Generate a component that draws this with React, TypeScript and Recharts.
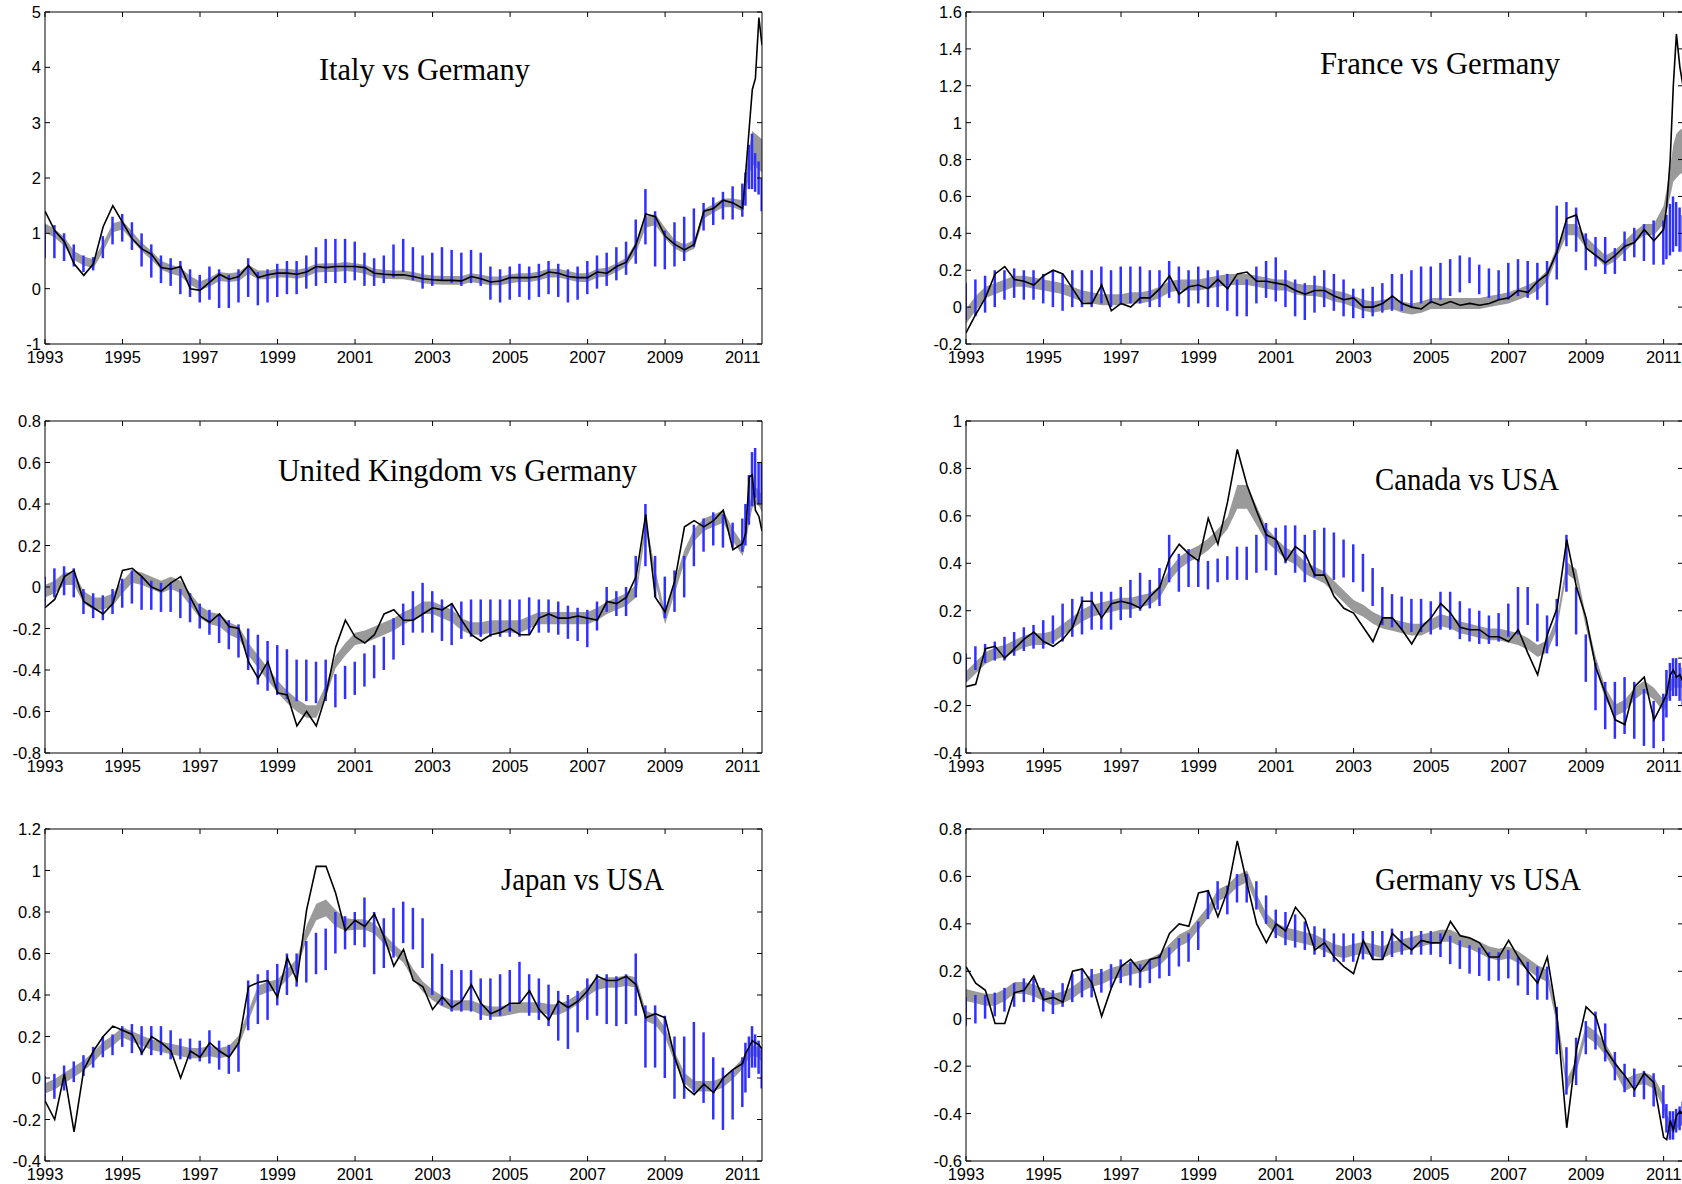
import React from 'react';
import { ComposedChart, Area, Bar, Line, XAxis, YAxis } from 'recharts';

// sample dates: quarterly to 2011, then roughly monthly for the last half-year
const T = [
  1993, 1993.25, 1993.5, 1993.75, 1994, 1994.25, 1994.5, 1994.75, 1995, 1995.25, 1995.5, 1995.75, 1996, 1996.25, 1996.5, 1996.75,
  1997, 1997.25, 1997.5, 1997.75, 1998, 1998.25, 1998.5, 1998.75, 1999, 1999.25, 1999.5, 1999.75, 2000, 2000.25, 2000.5, 2000.75,
  2001, 2001.25, 2001.5, 2001.75, 2002, 2002.25, 2002.5, 2002.75, 2003, 2003.25, 2003.5, 2003.75, 2004, 2004.25, 2004.5, 2004.75,
  2005, 2005.25, 2005.5, 2005.75, 2006, 2006.25, 2006.5, 2006.75, 2007, 2007.25, 2007.5, 2007.75, 2008, 2008.25, 2008.5, 2008.75,
  2009, 2009.25, 2009.5, 2009.75, 2010, 2010.25, 2010.5, 2010.75, 2011, 2011.08, 2011.17, 2011.25, 2011.33, 2011.42, 2011.5,
];
const YEARS = [1993, 1995, 1997, 1999, 2001, 2003, 2005, 2007, 2009, 2011];

// Italy vs Germany
const italyLine = [
  1.40, 1.05, 0.85, 0.45, 0.24, 0.45, 1.12, 1.50, 1.20, 0.90, 0.72, 0.62, 0.38, 0.35, 0.40, 0.00,
  -0.03, 0.12, 0.26, 0.17, 0.22, 0.42, 0.20, 0.25, 0.28, 0.28, 0.26, 0.30, 0.40, 0.38, 0.40, 0.40,
  0.40, 0.38, 0.28, 0.26, 0.25, 0.25, 0.22, 0.18, 0.16, 0.15, 0.15, 0.14, 0.22, 0.18, 0.12, 0.14,
  0.20, 0.20, 0.20, 0.22, 0.30, 0.28, 0.22, 0.20, 0.20, 0.30, 0.28, 0.40, 0.48, 0.80, 1.35, 1.30,
  0.95, 0.80, 0.70, 0.80, 1.40, 1.45, 1.60, 1.55, 1.45, 2.10, 2.90, 3.60, 3.80, 4.90, 4.40,
];
const italyBand = [
  1.10, 1.00, 0.85, 0.60, 0.50, 0.45, 0.75, 1.10, 1.15, 0.95, 0.75, 0.60, 0.42, 0.35, 0.30, 0.15,
  0.05, 0.12, 0.22, 0.20, 0.22, 0.35, 0.25, 0.25, 0.28, 0.28, 0.26, 0.30, 0.37, 0.38, 0.38, 0.40,
  0.38, 0.35, 0.28, 0.26, 0.25, 0.25, 0.22, 0.18, 0.16, 0.15, 0.15, 0.15, 0.20, 0.17, 0.14, 0.14,
  0.18, 0.20, 0.20, 0.23, 0.28, 0.28, 0.24, 0.20, 0.20, 0.28, 0.30, 0.38, 0.48, 0.75, 1.20, 1.25,
  1.00, 0.80, 0.72, 0.80, 1.35, 1.45, 1.55, 1.55, 1.50, 1.90, 2.30, 2.55, 2.50, 2.45, 2.40,
];
const italyBandHalf = [
  0.08, 0.08, 0.08, 0.08, 0.08, 0.08, 0.08, 0.08, 0.08, 0.08, 0.08, 0.08, 0.08, 0.08, 0.08, 0.08,
  0.08, 0.08, 0.08, 0.08, 0.08, 0.08, 0.08, 0.08, 0.08, 0.08, 0.08, 0.08, 0.08, 0.08, 0.08, 0.08,
  0.08, 0.08, 0.08, 0.08, 0.08, 0.08, 0.08, 0.08, 0.08, 0.08, 0.08, 0.08, 0.08, 0.08, 0.08, 0.08,
  0.08, 0.08, 0.08, 0.08, 0.08, 0.08, 0.08, 0.08, 0.08, 0.08, 0.08, 0.08, 0.08, 0.10, 0.10, 0.10,
  0.10, 0.08, 0.08, 0.08, 0.08, 0.08, 0.08, 0.08, 0.10, 0.15, 0.25, 0.30, 0.30, 0.30, 0.30,
];
const italyBar = [
  0.85, 0.85, 0.75, 0.60, 0.45, 0.45, 0.75, 1.05, 1.10, 0.95, 0.70, 0.50, 0.35, 0.30, 0.20, 0.10,
  0.00, 0.10, 0.00, -0.05, 0.05, 0.20, 0.00, 0.05, 0.15, 0.20, 0.20, 0.30, 0.40, 0.50, 0.50, 0.50,
  0.50, 0.35, 0.30, 0.35, 0.50, 0.60, 0.45, 0.30, 0.35, 0.45, 0.40, 0.35, 0.40, 0.35, 0.10, 0.05,
  0.10, 0.15, 0.10, 0.15, 0.20, 0.15, 0.05, 0.10, 0.20, 0.30, 0.35, 0.45, 0.55, 0.85, 1.30, 0.90,
  0.70, 0.80, 0.90, 1.10, 1.30, 1.40, 1.50, 1.55, 1.60, 1.80, 2.20, 2.30, 2.10, 2.00, 1.70,
];
const italyBarHalf = [
  0.30, 0.30, 0.25, 0.20, 0.15, 0.12, 0.20, 0.25, 0.25, 0.25, 0.30, 0.30, 0.25, 0.25, 0.30, 0.25,
  0.25, 0.30, 0.35, 0.30, 0.30, 0.35, 0.30, 0.30, 0.30, 0.30, 0.30, 0.30, 0.35, 0.40, 0.40, 0.40,
  0.35, 0.30, 0.25, 0.25, 0.30, 0.30, 0.30, 0.30, 0.30, 0.30, 0.30, 0.30, 0.30, 0.30, 0.30, 0.30,
  0.30, 0.30, 0.30, 0.30, 0.30, 0.30, 0.30, 0.30, 0.30, 0.30, 0.30, 0.30, 0.30, 0.40, 0.50, 0.50,
  0.35, 0.40, 0.40, 0.35, 0.25, 0.25, 0.25, 0.30, 0.30, 0.30, 0.40, 0.50, 0.35, 0.30, 0.30,
];

// France vs Germany
const franceLine = [
  -0.14, -0.04, 0.05, 0.18, 0.22, 0.15, 0.14, 0.12, 0.17, 0.20, 0.18, 0.10, 0.02, 0.02, 0.12, -0.02,
  0.02, 0.00, 0.05, 0.05, 0.10, 0.17, 0.07, 0.11, 0.12, 0.10, 0.15, 0.10, 0.18, 0.19, 0.14, 0.14,
  0.13, 0.12, 0.09, 0.07, 0.09, 0.09, 0.06, 0.04, 0.05, 0.00, 0.00, 0.02, 0.06, 0.02, 0.00, -0.01,
  0.03, 0.01, 0.03, 0.01, 0.02, 0.01, 0.02, 0.04, 0.05, 0.09, 0.08, 0.14, 0.18, 0.30, 0.48, 0.50,
  0.32, 0.28, 0.24, 0.28, 0.33, 0.35, 0.42, 0.36, 0.42, 0.55, 0.80, 1.20, 1.48, 1.30, 1.20,
];
const franceBand = [
  -0.05, 0.02, 0.08, 0.10, 0.12, 0.14, 0.14, 0.13, 0.12, 0.11, 0.10, 0.08, 0.06, 0.05, 0.04, 0.04,
  0.04, 0.05, 0.05, 0.06, 0.08, 0.11, 0.12, 0.12, 0.12, 0.13, 0.14, 0.15, 0.15, 0.15, 0.14, 0.13,
  0.12, 0.12, 0.10, 0.09, 0.09, 0.08, 0.06, 0.05, 0.03, 0.01, 0.00, 0.01, 0.02, 0.00, -0.01, 0.00,
  0.02, 0.02, 0.02, 0.02, 0.02, 0.02, 0.03, 0.04, 0.05, 0.07, 0.09, 0.12, 0.17, 0.30, 0.42, 0.42,
  0.35, 0.30, 0.25, 0.28, 0.33, 0.38, 0.42, 0.42, 0.50, 0.58, 0.68, 0.78, 0.82, 0.84, 0.85,
];
const franceBandHalf = [
  0.04, 0.04, 0.03, 0.03, 0.03, 0.03, 0.03, 0.03, 0.03, 0.03, 0.03, 0.03, 0.03, 0.03, 0.03, 0.03,
  0.03, 0.03, 0.03, 0.03, 0.03, 0.03, 0.03, 0.03, 0.03, 0.03, 0.03, 0.03, 0.03, 0.03, 0.03, 0.03,
  0.03, 0.03, 0.03, 0.03, 0.03, 0.03, 0.03, 0.03, 0.03, 0.03, 0.03, 0.03, 0.03, 0.03, 0.03, 0.03,
  0.03, 0.03, 0.03, 0.03, 0.03, 0.03, 0.03, 0.03, 0.03, 0.03, 0.03, 0.03, 0.03, 0.03, 0.03, 0.03,
  0.03, 0.03, 0.03, 0.03, 0.03, 0.03, 0.03, 0.03, 0.05, 0.06, 0.08, 0.10, 0.12, 0.12, 0.12,
];
const franceBar = [
  0.03, 0.05, 0.07, 0.10, 0.12, 0.13, 0.12, 0.12, 0.10, 0.10, 0.08, 0.10, 0.10, 0.10, 0.12, 0.10,
  0.12, 0.12, 0.12, 0.10, 0.10, 0.15, 0.12, 0.10, 0.12, 0.10, 0.10, 0.08, 0.05, 0.05, 0.12, 0.15,
  0.15, 0.10, 0.05, 0.03, 0.07, 0.10, 0.08, 0.05, 0.02, 0.02, 0.03, 0.05, 0.08, 0.08, 0.10, 0.12,
  0.12, 0.14, 0.16, 0.18, 0.20, 0.15, 0.13, 0.12, 0.14, 0.16, 0.15, 0.14, 0.13, 0.35, 0.45, 0.42,
  0.30, 0.30, 0.28, 0.25, 0.33, 0.35, 0.35, 0.35, 0.35, 0.38, 0.42, 0.45, 0.45, 0.42, 0.40,
];
const franceBarHalf = [
  0.10, 0.10, 0.10, 0.10, 0.08, 0.08, 0.08, 0.08, 0.08, 0.10, 0.10, 0.10, 0.10, 0.10, 0.10, 0.10,
  0.10, 0.10, 0.10, 0.10, 0.10, 0.10, 0.10, 0.10, 0.10, 0.10, 0.10, 0.10, 0.10, 0.10, 0.10, 0.10,
  0.12, 0.10, 0.10, 0.10, 0.10, 0.10, 0.10, 0.10, 0.08, 0.08, 0.08, 0.08, 0.10, 0.10, 0.10, 0.10,
  0.10, 0.10, 0.10, 0.10, 0.07, 0.08, 0.08, 0.08, 0.10, 0.10, 0.10, 0.10, 0.12, 0.20, 0.12, 0.12,
  0.10, 0.08, 0.10, 0.07, 0.08, 0.08, 0.10, 0.12, 0.12, 0.12, 0.14, 0.15, 0.12, 0.12, 0.10,
];

// United Kingdom vs Germany
const ukLine = [
  -0.10, -0.06, 0.05, 0.08, -0.07, -0.10, -0.13, -0.08, 0.08, 0.09, 0.05, 0.00, -0.02, 0.02, 0.05, -0.05,
  -0.14, -0.17, -0.13, -0.19, -0.20, -0.36, -0.44, -0.36, -0.51, -0.52, -0.67, -0.60, -0.67, -0.52, -0.29, -0.16,
  -0.24, -0.27, -0.23, -0.13, -0.11, -0.16, -0.16, -0.13, -0.10, -0.11, -0.08, -0.16, -0.23, -0.26, -0.23, -0.22,
  -0.20, -0.23, -0.23, -0.15, -0.13, -0.15, -0.15, -0.14, -0.15, -0.16, -0.07, -0.08, -0.05, 0.05, 0.35, -0.05,
  -0.12, 0.03, 0.29, 0.32, 0.29, 0.32, 0.37, 0.18, 0.21, 0.26, 0.53, 0.54, 0.37, 0.34, 0.27,
];
const ukBand = [
  -0.02, 0.00, 0.04, 0.04, -0.05, -0.08, -0.08, -0.06, 0.00, 0.05, 0.04, 0.02, 0.00, 0.02, 0.00, -0.06,
  -0.12, -0.15, -0.16, -0.20, -0.22, -0.30, -0.36, -0.42, -0.48, -0.53, -0.57, -0.60, -0.60, -0.50, -0.36, -0.30,
  -0.25, -0.24, -0.22, -0.20, -0.18, -0.15, -0.13, -0.10, -0.10, -0.12, -0.14, -0.18, -0.20, -0.20, -0.19, -0.19,
  -0.19, -0.19, -0.17, -0.15, -0.15, -0.15, -0.15, -0.15, -0.15, -0.13, -0.10, -0.08, -0.06, -0.02, 0.30, 0.05,
  -0.15, 0.00, 0.15, 0.25, 0.30, 0.32, 0.34, 0.25, 0.18, 0.25, 0.35, 0.42, 0.44, 0.43, 0.40,
];
const ukBandHalf = [
  0.03, 0.03, 0.03, 0.03, 0.03, 0.03, 0.03, 0.03, 0.03, 0.03, 0.03, 0.03, 0.03, 0.03, 0.03, 0.03,
  0.03, 0.03, 0.03, 0.03, 0.03, 0.03, 0.03, 0.03, 0.03, 0.03, 0.03, 0.03, 0.03, 0.03, 0.03, 0.03,
  0.03, 0.03, 0.03, 0.03, 0.03, 0.03, 0.03, 0.03, 0.03, 0.03, 0.03, 0.03, 0.03, 0.03, 0.03, 0.03,
  0.03, 0.03, 0.03, 0.03, 0.03, 0.03, 0.03, 0.03, 0.03, 0.03, 0.03, 0.03, 0.03, 0.03, 0.03, 0.03,
  0.03, 0.03, 0.03, 0.03, 0.03, 0.03, 0.03, 0.03, 0.03, 0.04, 0.04, 0.04, 0.04, 0.04, 0.04,
];
const ukBar = [
  -0.02, 0.02, 0.03, 0.02, -0.07, -0.09, -0.10, -0.07, -0.03, 0.00, -0.03, -0.04, -0.05, -0.05, -0.08, -0.10,
  -0.14, -0.17, -0.20, -0.23, -0.26, -0.30, -0.35, -0.38, -0.40, -0.42, -0.45, -0.45, -0.46, -0.45, -0.50, -0.46,
  -0.44, -0.40, -0.36, -0.32, -0.25, -0.18, -0.12, -0.10, -0.12, -0.16, -0.18, -0.16, -0.15, -0.15, -0.15, -0.15,
  -0.15, -0.15, -0.14, -0.14, -0.14, -0.15, -0.17, -0.18, -0.20, -0.14, -0.06, -0.08, -0.07, 0.05, 0.25, 0.05,
  -0.05, -0.02, 0.05, 0.20, 0.25, 0.28, 0.27, 0.25, 0.25, 0.30, 0.42, 0.52, 0.55, 0.50, 0.50,
];
const ukBarHalf = [
  0.07, 0.07, 0.07, 0.07, 0.06, 0.06, 0.06, 0.06, 0.07, 0.08, 0.08, 0.07, 0.07, 0.07, 0.07, 0.07,
  0.06, 0.06, 0.07, 0.07, 0.08, 0.10, 0.12, 0.12, 0.12, 0.12, 0.10, 0.10, 0.10, 0.10, 0.08, 0.08,
  0.08, 0.08, 0.08, 0.08, 0.10, 0.10, 0.10, 0.12, 0.10, 0.10, 0.10, 0.09, 0.09, 0.09, 0.09, 0.09,
  0.09, 0.09, 0.09, 0.08, 0.08, 0.08, 0.08, 0.08, 0.09, 0.07, 0.06, 0.06, 0.07, 0.10, 0.15, 0.10,
  0.10, 0.10, 0.10, 0.10, 0.08, 0.08, 0.08, 0.06, 0.08, 0.10, 0.12, 0.13, 0.12, 0.10, 0.10,
];

// Canada vs USA
const canadaLine = [
  -0.12, -0.11, 0.04, 0.05, 0.00, 0.04, 0.08, 0.11, 0.07, 0.05, 0.08, 0.13, 0.24, 0.24, 0.17, 0.23,
  0.24, 0.23, 0.21, 0.26, 0.30, 0.42, 0.48, 0.44, 0.41, 0.59, 0.48, 0.66, 0.88, 0.73, 0.62, 0.52,
  0.50, 0.41, 0.47, 0.44, 0.35, 0.35, 0.26, 0.21, 0.19, 0.13, 0.07, 0.17, 0.17, 0.12, 0.06, 0.13,
  0.17, 0.23, 0.19, 0.13, 0.12, 0.12, 0.09, 0.09, 0.07, 0.12, 0.02, -0.07, 0.10, 0.21, 0.50, 0.30,
  0.17, -0.04, -0.15, -0.26, -0.28, -0.12, -0.08, -0.26, -0.18, -0.15, -0.07, -0.05, -0.08, -0.07, -0.10,
];
const canadaBand = [
  -0.08, -0.04, 0.00, 0.02, 0.03, 0.05, 0.07, 0.08, 0.08, 0.09, 0.12, 0.15, 0.18, 0.20, 0.21, 0.22,
  0.23, 0.23, 0.24, 0.25, 0.28, 0.35, 0.40, 0.43, 0.45, 0.48, 0.52, 0.57, 0.68, 0.68, 0.60, 0.52,
  0.48, 0.44, 0.42, 0.38, 0.36, 0.34, 0.30, 0.26, 0.22, 0.20, 0.17, 0.15, 0.14, 0.13, 0.12, 0.12,
  0.14, 0.16, 0.15, 0.13, 0.12, 0.11, 0.10, 0.10, 0.09, 0.08, 0.06, 0.03, 0.05, 0.15, 0.38, 0.35,
  0.15, -0.02, -0.15, -0.22, -0.20, -0.15, -0.12, -0.15, -0.20, -0.17, -0.12, -0.10, -0.10, -0.10, -0.10,
];
const canadaBandHalf = [
  0.025, 0.025, 0.025, 0.025, 0.025, 0.025, 0.025, 0.025, 0.025, 0.025, 0.025, 0.025, 0.025, 0.025, 0.025, 0.025,
  0.025, 0.025, 0.025, 0.025, 0.025, 0.025, 0.025, 0.025, 0.025, 0.025, 0.025, 0.025, 0.05, 0.05, 0.04, 0.03,
  0.025, 0.025, 0.025, 0.025, 0.025, 0.025, 0.025, 0.025, 0.025, 0.025, 0.025, 0.025, 0.025, 0.025, 0.025, 0.025,
  0.025, 0.025, 0.025, 0.025, 0.025, 0.025, 0.025, 0.025, 0.025, 0.025, 0.025, 0.025, 0.025, 0.025, 0.025, 0.025,
  0.025, 0.025, 0.025, 0.025, 0.025, 0.025, 0.025, 0.025, 0.025, 0.025, 0.025, 0.025, 0.025, 0.025, 0.025,
];
const canadaBar = [
  -0.04, 0.00, 0.02, 0.03, 0.04, 0.06, 0.08, 0.09, 0.10, 0.12, 0.15, 0.17, 0.18, 0.20, 0.20, 0.20,
  0.23, 0.25, 0.28, 0.27, 0.30, 0.42, 0.36, 0.38, 0.36, 0.35, 0.37, 0.38, 0.40, 0.40, 0.44, 0.47,
  0.45, 0.48, 0.46, 0.42, 0.44, 0.45, 0.43, 0.42, 0.40, 0.36, 0.30, 0.22, 0.20, 0.19, 0.18, 0.18,
  0.17, 0.20, 0.20, 0.16, 0.14, 0.13, 0.12, 0.13, 0.16, 0.20, 0.22, 0.15, 0.10, 0.15, 0.40, 0.20,
  0.00, -0.12, -0.20, -0.22, -0.20, -0.22, -0.25, -0.28, -0.25, -0.15, -0.10, -0.08, -0.08, -0.10, -0.12,
];
const canadaBarHalf = [
  0.06, 0.05, 0.04, 0.04, 0.05, 0.05, 0.05, 0.05, 0.06, 0.06, 0.08, 0.08, 0.08, 0.08, 0.08, 0.08,
  0.07, 0.08, 0.08, 0.06, 0.08, 0.10, 0.08, 0.08, 0.06, 0.06, 0.05, 0.05, 0.07, 0.07, 0.08, 0.10,
  0.10, 0.08, 0.10, 0.10, 0.10, 0.10, 0.10, 0.08, 0.08, 0.08, 0.08, 0.08, 0.07, 0.07, 0.07, 0.07,
  0.07, 0.08, 0.08, 0.08, 0.07, 0.07, 0.06, 0.06, 0.07, 0.10, 0.08, 0.08, 0.08, 0.10, 0.12, 0.10,
  0.10, 0.10, 0.10, 0.12, 0.12, 0.12, 0.12, 0.10, 0.10, 0.10, 0.08, 0.08, 0.08, 0.08, 0.08,
];

// Japan vs USA
const japanLine = [
  -0.11, -0.20, 0.02, -0.26, 0.04, 0.13, 0.20, 0.25, 0.23, 0.21, 0.12, 0.20, 0.17, 0.13, 0.00, 0.13,
  0.10, 0.17, 0.13, 0.10, 0.17, 0.44, 0.46, 0.47, 0.39, 0.58, 0.47, 0.81, 1.02, 1.02, 0.89, 0.71,
  0.76, 0.73, 0.79, 0.68, 0.54, 0.62, 0.47, 0.44, 0.33, 0.39, 0.34, 0.37, 0.45, 0.36, 0.31, 0.33,
  0.36, 0.36, 0.42, 0.33, 0.28, 0.37, 0.34, 0.37, 0.42, 0.49, 0.47, 0.47, 0.49, 0.45, 0.29, 0.31,
  0.29, 0.10, -0.04, -0.08, -0.03, -0.07, 0.00, 0.04, 0.07, 0.12, 0.15, 0.18, 0.17, 0.16, 0.14,
];
const japanBand = [
  -0.05, -0.03, 0.00, 0.03, 0.06, 0.10, 0.15, 0.18, 0.22, 0.20, 0.18, 0.16, 0.15, 0.14, 0.13, 0.12,
  0.12, 0.13, 0.12, 0.13, 0.18, 0.30, 0.42, 0.44, 0.45, 0.50, 0.55, 0.70, 0.80, 0.82, 0.77, 0.74,
  0.74, 0.74, 0.72, 0.67, 0.62, 0.58, 0.50, 0.44, 0.40, 0.37, 0.35, 0.35, 0.35, 0.33, 0.32, 0.32,
  0.33, 0.34, 0.34, 0.34, 0.33, 0.33, 0.35, 0.38, 0.42, 0.45, 0.46, 0.46, 0.47, 0.46, 0.30, 0.28,
  0.22, 0.10, 0.00, -0.04, -0.04, -0.04, -0.02, 0.02, 0.07, 0.10, 0.12, 0.13, 0.13, 0.12, 0.10,
];
const japanBandHalf = [
  0.025, 0.025, 0.025, 0.025, 0.025, 0.025, 0.025, 0.025, 0.025, 0.025, 0.025, 0.025, 0.025, 0.025, 0.025, 0.025,
  0.025, 0.025, 0.025, 0.025, 0.025, 0.025, 0.025, 0.025, 0.025, 0.025, 0.025, 0.035, 0.04, 0.04, 0.04, 0.03,
  0.025, 0.025, 0.025, 0.025, 0.025, 0.025, 0.025, 0.025, 0.025, 0.025, 0.025, 0.025, 0.025, 0.025, 0.025, 0.025,
  0.025, 0.025, 0.025, 0.025, 0.025, 0.025, 0.025, 0.025, 0.025, 0.025, 0.025, 0.025, 0.025, 0.025, 0.025, 0.025,
  0.025, 0.025, 0.025, 0.025, 0.025, 0.025, 0.025, 0.025, 0.025, 0.025, 0.025, 0.025, 0.025, 0.025, 0.025,
];
const japanBar = [
  -0.05, -0.04, 0.00, 0.03, 0.06, 0.10, 0.15, 0.16, 0.20, 0.19, 0.18, 0.18, 0.18, 0.16, 0.14, 0.14,
  0.13, 0.15, 0.11, 0.09, 0.10, 0.35, 0.38, 0.40, 0.45, 0.50, 0.52, 0.56, 0.60, 0.62, 0.70, 0.70,
  0.72, 0.75, 0.65, 0.65, 0.70, 0.75, 0.72, 0.65, 0.50, 0.45, 0.42, 0.42, 0.42, 0.38, 0.38, 0.40,
  0.42, 0.46, 0.40, 0.38, 0.35, 0.30, 0.27, 0.32, 0.38, 0.40, 0.38, 0.37, 0.38, 0.45, 0.20, 0.20,
  0.15, 0.05, 0.05, 0.10, 0.05, -0.05, -0.10, -0.08, -0.02, 0.05, 0.10, 0.15, 0.13, 0.10, 0.05,
];
const japanBarHalf = [
  0.06, 0.06, 0.06, 0.05, 0.05, 0.05, 0.05, 0.05, 0.05, 0.07, 0.07, 0.07, 0.07, 0.07, 0.05, 0.05,
  0.05, 0.08, 0.07, 0.07, 0.07, 0.12, 0.12, 0.12, 0.10, 0.10, 0.08, 0.10, 0.10, 0.10, 0.10, 0.08,
  0.08, 0.12, 0.15, 0.12, 0.12, 0.10, 0.10, 0.12, 0.10, 0.10, 0.10, 0.10, 0.10, 0.10, 0.10, 0.10,
  0.10, 0.10, 0.10, 0.10, 0.10, 0.12, 0.13, 0.10, 0.10, 0.10, 0.12, 0.12, 0.12, 0.15, 0.15, 0.15,
  0.15, 0.15, 0.15, 0.17, 0.17, 0.15, 0.15, 0.12, 0.12, 0.12, 0.10, 0.10, 0.08, 0.08, 0.10,
];

// Germany vs USA
const germanyLine = [
  0.22, 0.15, 0.12, -0.02, -0.02, 0.11, 0.12, 0.18, 0.08, 0.09, 0.07, 0.20, 0.21, 0.15, 0.01, 0.13,
  0.22, 0.25, 0.20, 0.25, 0.26, 0.36, 0.40, 0.39, 0.53, 0.54, 0.43, 0.54, 0.75, 0.57, 0.40, 0.32,
  0.40, 0.37, 0.47, 0.42, 0.29, 0.32, 0.26, 0.22, 0.19, 0.33, 0.25, 0.25, 0.36, 0.32, 0.29, 0.33,
  0.32, 0.32, 0.41, 0.35, 0.34, 0.32, 0.26, 0.26, 0.33, 0.26, 0.20, 0.15, 0.26, 0.01, -0.46, -0.13,
  0.05, 0.01, -0.13, -0.19, -0.24, -0.30, -0.23, -0.27, -0.50, -0.51, -0.43, -0.47, -0.41, -0.39, -0.40,
];
const germanyBand = [
  0.10, 0.09, 0.08, 0.08, 0.10, 0.13, 0.13, 0.12, 0.10, 0.08, 0.09, 0.11, 0.14, 0.16, 0.17, 0.19,
  0.20, 0.21, 0.22, 0.23, 0.25, 0.29, 0.33, 0.35, 0.40, 0.45, 0.52, 0.54, 0.58, 0.60, 0.50, 0.42,
  0.38, 0.36, 0.35, 0.34, 0.33, 0.31, 0.29, 0.28, 0.29, 0.30, 0.29, 0.28, 0.30, 0.31, 0.32, 0.33,
  0.34, 0.35, 0.35, 0.33, 0.32, 0.30, 0.28, 0.27, 0.28, 0.26, 0.23, 0.20, 0.18, 0.00, -0.28, -0.20,
  -0.05, -0.08, -0.13, -0.20, -0.28, -0.26, -0.25, -0.27, -0.35, -0.43, -0.45, -0.45, -0.44, -0.43, -0.42,
];
const germanyBandHalf = [
  0.025, 0.025, 0.025, 0.025, 0.025, 0.025, 0.025, 0.025, 0.025, 0.025, 0.025, 0.025, 0.025, 0.025, 0.025, 0.025,
  0.025, 0.025, 0.025, 0.025, 0.025, 0.025, 0.025, 0.025, 0.025, 0.025, 0.025, 0.025, 0.025, 0.025, 0.025, 0.025,
  0.025, 0.025, 0.025, 0.025, 0.025, 0.025, 0.025, 0.025, 0.025, 0.025, 0.025, 0.025, 0.025, 0.025, 0.025, 0.025,
  0.025, 0.025, 0.025, 0.025, 0.025, 0.025, 0.025, 0.025, 0.025, 0.025, 0.025, 0.025, 0.025, 0.025, 0.025, 0.025,
  0.025, 0.025, 0.025, 0.025, 0.025, 0.025, 0.025, 0.025, 0.025, 0.025, 0.025, 0.025, 0.025, 0.025, 0.025,
];
const germanyBar = [
  0.03, 0.04, 0.05, 0.06, 0.08, 0.10, 0.12, 0.12, 0.08, 0.07, 0.10, 0.13, 0.15, 0.15, 0.16, 0.18,
  0.20, 0.19, 0.18, 0.20, 0.22, 0.24, 0.28, 0.30, 0.35, 0.48, 0.52, 0.50, 0.55, 0.55, 0.52, 0.46,
  0.40, 0.38, 0.37, 0.35, 0.33, 0.32, 0.30, 0.30, 0.30, 0.31, 0.31, 0.31, 0.32, 0.32, 0.32, 0.32,
  0.32, 0.31, 0.29, 0.27, 0.25, 0.24, 0.22, 0.22, 0.23, 0.20, 0.17, 0.15, 0.15, -0.05, -0.22, -0.18,
  -0.08, -0.05, -0.10, -0.20, -0.25, -0.27, -0.28, -0.30, -0.35, -0.42, -0.45, -0.45, -0.43, -0.42, -0.40,
];
const germanyBarHalf = [
  0.06, 0.06, 0.05, 0.05, 0.05, 0.05, 0.05, 0.05, 0.05, 0.05, 0.05, 0.06, 0.06, 0.06, 0.05, 0.05,
  0.05, 0.05, 0.05, 0.05, 0.05, 0.06, 0.06, 0.06, 0.06, 0.06, 0.06, 0.06, 0.06, 0.06, 0.06, 0.06,
  0.06, 0.07, 0.07, 0.06, 0.06, 0.06, 0.06, 0.06, 0.06, 0.06, 0.06, 0.06, 0.06, 0.05, 0.05, 0.05,
  0.05, 0.05, 0.06, 0.06, 0.06, 0.06, 0.06, 0.06, 0.06, 0.06, 0.07, 0.07, 0.07, 0.10, 0.10, 0.10,
  0.07, 0.08, 0.08, 0.06, 0.06, 0.06, 0.06, 0.07, 0.07, 0.06, 0.06, 0.06, 0.05, 0.05, 0.05,
];

const italyTicks = [-1, 0, 1, 2, 3, 4, 5];
const franceTicks = [-0.2, 0, 0.2, 0.4, 0.6, 0.8, 1, 1.2, 1.4, 1.6];
const ukTicks = [-0.8, -0.6, -0.4, -0.2, 0, 0.2, 0.4, 0.6, 0.8];
const canadaTicks = [-0.4, -0.2, 0, 0.2, 0.4, 0.6, 0.8, 1];
const japanTicks = [-0.4, -0.2, 0, 0.2, 0.4, 0.6, 0.8, 1, 1.2];
const germanyTicks = [-0.6, -0.4, -0.2, 0, 0.2, 0.4, 0.6, 0.8];

const PLOT_W = 717;
const PLOT_H = 332;
// outer margins; each axis takes 1px more on its side
const M = { top: 11, right: 3, bottom: 27, left: 45 };
const FONT = '"Liberation Sans", Arial, Helvetica, sans-serif';
const TITLE_FONT = '"Liberation Serif", "DejaVu Serif", serif';

const fmt = (v: number) => String(Math.round(v * 10) / 10);

const BottomTick = (p: any) => (
  <g>
    <line x1={p.x} x2={p.x} y1={p.y} y2={p.y - 5} stroke="#000" />
    <text x={p.x} y={p.y + 19} textAnchor="middle" fontSize={16.5} fontFamily={FONT} fill="#000">
      {p.payload.value}
    </text>
  </g>
);
const TopTick = (p: any) => <line x1={p.x} x2={p.x} y1={p.y} y2={p.y + 5} stroke="#000" />;
const LeftTick = (p: any) => (
  <g>
    <line x1={p.x} x2={p.x + 5} y1={p.y} y2={p.y} stroke="#000" />
    <text x={p.x - 4} y={p.y + 6} textAnchor="end" fontSize={16.5} fontFamily={FONT} fill="#000">
      {fmt(p.payload.value)}
    </text>
  </g>
);
const RightTick = (p: any) => <line x1={p.x} x2={p.x - 5} y1={p.y} y2={p.y} stroke="#000" />;

const panels = [
  { title: 'Italy vs Germany', left: 45, top: 12, domain: [-1, 5], ticks: italyTicks,
    line: italyLine, band: italyBand, bandHalf: italyBandHalf, bar: italyBar, barHalf: italyBarHalf,
    tx: 319, ty: 80, tw: 211 },
  { title: 'France vs Germany', left: 966, top: 12, domain: [-0.2, 1.6], ticks: franceTicks,
    line: franceLine, band: franceBand, bandHalf: franceBandHalf, bar: franceBar, barHalf: franceBarHalf,
    tx: 1320, ty: 74, tw: 240 },
  { title: 'United Kingdom vs Germany', left: 45, top: 421, domain: [-0.8, 0.8], ticks: ukTicks,
    line: ukLine, band: ukBand, bandHalf: ukBandHalf, bar: ukBar, barHalf: ukBarHalf,
    tx: 278, ty: 481, tw: 359 },
  { title: 'Canada vs USA', left: 966, top: 421, domain: [-0.4, 1], ticks: canadaTicks,
    line: canadaLine, band: canadaBand, bandHalf: canadaBandHalf, bar: canadaBar, barHalf: canadaBarHalf,
    tx: 1375, ty: 490, tw: 184 },
  { title: 'Japan vs USA', left: 45, top: 829, domain: [-0.4, 1.2], ticks: japanTicks,
    line: japanLine, band: japanBand, bandHalf: japanBandHalf, bar: japanBar, barHalf: japanBarHalf,
    tx: 501, ty: 890, tw: 163 },
  { title: 'Germany vs USA', left: 966, top: 829, domain: [-0.6, 0.8], ticks: germanyTicks,
    line: germanyLine, band: germanyBand, bandHalf: germanyBandHalf, bar: germanyBar, barHalf: germanyBarHalf,
    tx: 1375, ty: 890, tw: 206 },
];

function Panel({ p }: { p: (typeof panels)[number] }) {
  const rows = T.map((t, i) => ({
    t,
    line: p.line[i],
    band: [p.band[i] - p.bandHalf[i], p.band[i] + p.bandHalf[i]],
    bar: [p.bar[i] - p.barHalf[i], p.bar[i] + p.barHalf[i]],
  }));
  return (
    <div style={{ position: 'absolute', left: p.left - M.left - 1, top: p.top - M.top - 1 }}>
      <ComposedChart width={PLOT_W + M.left + M.right + 2} height={PLOT_H + M.top + M.bottom + 2} data={rows} margin={M}>
        <XAxis xAxisId="x" dataKey="t" type="number" domain={[1993, 2011.5]} ticks={YEARS} allowDataOverflow
          orientation="bottom" height={1} tickSize={0} tickMargin={0} interval={0}
          tick={BottomTick} tickLine={false} axisLine={{ stroke: '#000' }} />
        <XAxis xAxisId="top" dataKey="t" type="number" domain={[1993, 2011.5]} ticks={YEARS} allowDataOverflow
          orientation="top" height={1} tickSize={0} tickMargin={0} interval={0}
          tick={TopTick} tickLine={false} axisLine={{ stroke: '#000' }} />
        <YAxis yAxisId="y" type="number" domain={p.domain} ticks={p.ticks} allowDataOverflow
          width={1} tickSize={0} tickMargin={0} interval={0}
          tick={LeftTick} tickLine={false} axisLine={{ stroke: '#000' }} />
        <YAxis yAxisId="r" orientation="right" type="number" domain={p.domain} ticks={p.ticks} allowDataOverflow
          width={1} tickSize={0} tickMargin={0} interval={0}
          tick={RightTick} tickLine={false} axisLine={{ stroke: '#000' }} />
        <Area xAxisId="x" yAxisId="y" type="linear" dataKey="band" fill="#9a9a9a" fillOpacity={1}
          stroke="none" isAnimationActive={false} />
        <Bar xAxisId="x" yAxisId="y" dataKey="bar" fill="#3131ff" barSize={2.5} isAnimationActive={false} />
        <Line xAxisId="x" yAxisId="y" type="linear" dataKey="line" stroke="#000" strokeWidth={1.6}
          dot={false} isAnimationActive={false} />
      </ComposedChart>
    </div>
  );
}

export default function App() {
  return (
    <div style={{ position: 'absolute', left: 0, top: 0, width: 1682, height: 1184, overflow: 'hidden', background: '#fff' }}>
      {panels.map((p) => (
        <Panel key={p.title} p={p} />
      ))}
      <svg width={1682} height={1184} style={{ position: 'absolute', left: 0, top: 0, pointerEvents: 'none' }}>
        {panels.map((p) => (
          <text key={p.title} x={p.tx} y={p.ty} textLength={p.tw} lengthAdjust="spacingAndGlyphs"
            fontFamily={TITLE_FONT} fontSize={31} fill="#000">
            {p.title}
          </text>
        ))}
      </svg>
    </div>
  );
}
